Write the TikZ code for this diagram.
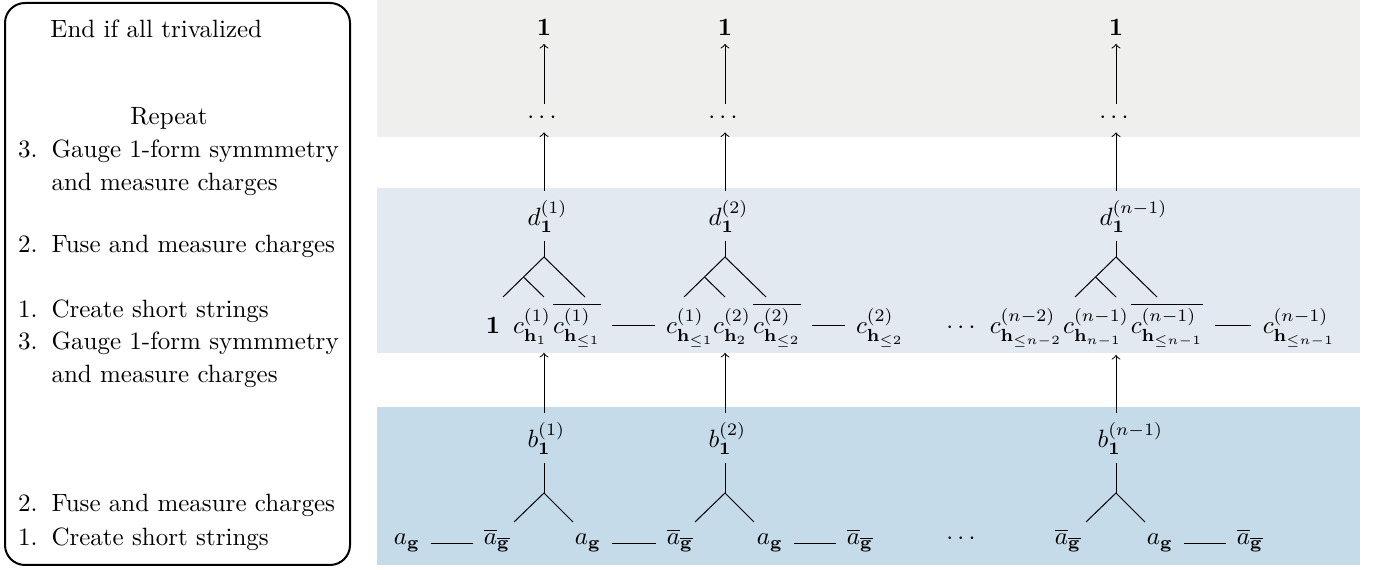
\documentclass[tikz,border=0pt]{standalone}
\usepackage{amsmath,amssymb}
\definecolor{bandgrey}{RGB}{239,239,237}
\definecolor{bandlight}{RGB}{226,233,241}
\definecolor{banddark}{RGB}{198,219,233}
\begin{document}
\begin{tikzpicture}[x=0.4pt,y=-0.4pt,
  lbl/.style={anchor=base},
  hdl/.style={anchor=base west, inner xsep=0pt},
  ltxt/.style={anchor=base west, inner sep=0pt},
  lnum/.style={anchor=base east, inner sep=0pt},
  conn/.style={->},
  link/.style={shorten <=1pt, shorten >=1pt},
  stepbox/.style={draw, line width=0.8pt, rounded corners=8pt}]
\useasboundingbox (0,0) rectangle (1391,570);
% bands
\fill[bandgrey] (377,0) rectangle (1360,137);
\fill[bandlight] (377,188) rectangle (1360,353);
\fill[banddark] (377,407) rectangle (1360,565);
% left box
\draw[stepbox] (5,3) rectangle (350,565);
\node[ltxt] (endt) at (50,38) {End if all trivalized};
\node[anchor=base, inner sep=0pt] (rep) at (169,125) {Repeat};
\node[lnum] (n3a) at (38,158) {3.};
\node[ltxt] (g3a) at (51,158) {Gauge 1-form symmmetry};
\node[ltxt] (m3a) at (51,191) {and measure charges};
\node[lnum] (n2a) at (38,253) {2.};
\node[ltxt] (f2a) at (51,253) {Fuse and measure charges};
\node[lnum] (n1a) at (38,318) {1.};
\node[ltxt] (c1a) at (51,318) {Create short strings};
\node[lnum] (n3b) at (38,350) {3.};
\node[ltxt] (g3b) at (51,350) {Gauge 1-form symmmetry};
\node[ltxt] (m3b) at (51,383) {and measure charges};
\node[lnum] (n2b) at (38,512) {2.};
\node[ltxt] (f2b) at (51,512) {Fuse and measure charges};
\node[lnum] (n1b) at (38,546) {1.};
\node[ltxt] (c1b) at (51,546) {Create short strings};
% top
\foreach \i/\x in {1/544,2/725,3/1116} {
  \coordinate (x\i) at (\x,0);
  \node (t\i) at (\x,27) {$\mathbf{1}$};
  \node (u\i) at (\x,118) {$\cdots$};
  \draw[conn] (u\i) -- (t\i);
}
% d labels
\node[hdl] (d1) at (527,226) {$d_{\mathbf{1}}^{(1)}$};
\node[hdl] (d2) at (708,226) {$d_{\mathbf{1}}^{(2)}$};
\node[hdl] (d3) at (1099,226) {$d_{\mathbf{1}}^{(n-1)}$};
% b labels
\node[hdl] (b1) at (527,448) {$b_{\mathbf{1}}^{(1)}$};
\node[hdl] (b2) at (708,448) {$b_{\mathbf{1}}^{(2)}$};
\node[hdl] (b3) at (1097,448) {$b_{\mathbf{1}}^{(n-1)}$};
% c row
\node[lbl] (one) at (493,334) {$\mathbf{1}$};
\node[lbl] (c11) at (532,334) {$c^{(1)}_{\mathbf{h}_1}$};
\node[lbl] (cb11) at (577,334) {$\overline{c^{(1)}_{\mathbf{h}_{\le 1}}}$};
\node[lbl] (c12) at (690,334) {$c^{(1)}_{\mathbf{h}_{\le 1}}$};
\node[lbl] (c22) at (732,334) {$c^{(2)}_{\mathbf{h}_2}$};
\node[lbl] (cb22) at (777,334) {$\overline{c^{(2)}_{\mathbf{h}_{\le 2}}}$};
\node[lbl] (c23) at (880,334) {$c^{(2)}_{\mathbf{h}_{\le 2}}$};
\node[lbl] (cdots) at (963,334) {$\cdots$};
\node[lbl] (cn2) at (1026,334) {$c^{(n-2)}_{\mathbf{h}_{\le n-2}}$};
\node[lbl] (cn1) at (1096,334) {$c^{(n-1)}_{\mathbf{h}_{n-1}}$};
\node[lbl] (cbn) at (1167,334) {$\overline{c^{(n-1)}_{\mathbf{h}_{\le n-1}}}$};
\node[lbl] (cn) at (1299,334) {$c^{(n-1)}_{\mathbf{h}_{\le n-1}}$};
\draw[link] (cb11.east) -- (cb11.east -| c12.west);
\draw[link] (cb22.east) -- (cb22.east -| c23.west);
\draw[link] (cbn.east) -- (cbn.east -| cn.west);
% a row
\node[lbl] (a1) at (407,545) {$a_{\mathbf{g}}$};
\node[lbl] (ab1) at (497,545) {$\overline{a}_{\overline{\mathbf{g}}}$};
\node[lbl] (a2) at (588,545) {$a_{\mathbf{g}}$};
\node[lbl] (ab2) at (680,545) {$\overline{a}_{\overline{\mathbf{g}}}$};
\node[lbl] (a3) at (770,545) {$a_{\mathbf{g}}$};
\node[lbl] (ab3) at (860,545) {$\overline{a}_{\overline{\mathbf{g}}}$};
\node[lbl] (adots) at (963,545) {$\cdots$};
\node[lbl] (ab4) at (1068,545) {$\overline{a}_{\overline{\mathbf{g}}}$};
\node[lbl] (a4) at (1160,545) {$a_{\mathbf{g}}$};
\node[lbl] (ab5) at (1250,545) {$\overline{a}_{\overline{\mathbf{g}}}$};
\draw[link] (a1.east) -- (a1.east -| ab1.west);
\draw[link] (a2.east) -- (a2.east -| ab2.west);
\draw[link] (a3.east) -- (a3.east -| ab3.west);
\draw[link] (a4.east) -- (a4.east -| ab5.west);
% trees and arrows
\foreach \i/\x/\c in {1/544/c11,2/725/c22,3/1116/cn1} {
  \draw[conn] (d\i.north -| x\i) -- (u\i);
  \coordinate (da\i) at (\x,257);
  \coordinate (dl\i) at (\x-41,297);
  \coordinate (dr\i) at (\x+41,297);
  \coordinate (dm\i) at (\x-20.5,277);
  \coordinate (dn\i) at (\x,297);
  \draw (d\i.south -| da\i) -- (da\i);
  \draw (dl\i) -- (da\i) -- (dr\i);
  \draw (dm\i) -- (dn\i);
  \coordinate (ba\i) at (\x,493);
  \coordinate (bl\i) at (\x-30,522);
  \coordinate (br\i) at (\x+29,522);
  \draw (b\i.south -| ba\i) -- (ba\i);
  \draw (bl\i) -- (ba\i) -- (br\i);
  \draw[conn] (b\i.north -| x\i) -- (\c.south -| x\i);
}
\end{tikzpicture}
\end{document}
